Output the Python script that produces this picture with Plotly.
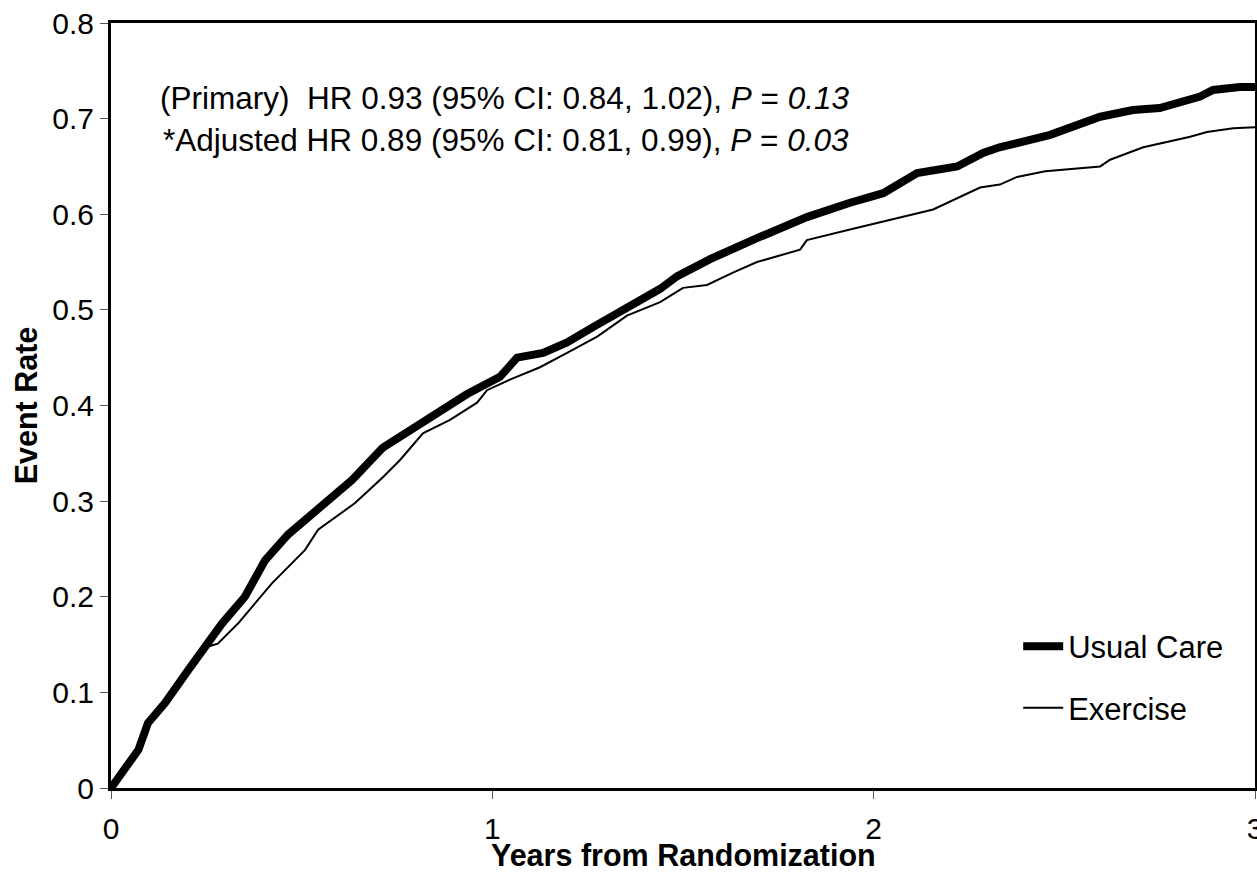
import plotly.graph_objects as go

# Usual Care (thick) event rate
usual_t = [0, 0.072, 0.097, 0.142, 0.202, 0.247, 0.291, 0.351, 0.404, 0.464, 0.553, 0.632,
           0.713, 0.758, 0.845, 0.934, 1.02, 1.065, 1.133, 1.196, 1.264, 1.353, 1.44, 1.484,
           1.571, 1.694, 1.825, 1.938, 2.025, 2.114, 2.219, 2.287, 2.33, 2.463, 2.594, 2.68,
           2.75, 2.856, 2.89, 2.96, 3.0]
usual_y = [0, 0.04, 0.068, 0.089, 0.123, 0.147, 0.172, 0.2, 0.238, 0.265, 0.294, 0.322,
           0.356, 0.367, 0.388, 0.412, 0.43, 0.45, 0.455, 0.466, 0.482, 0.503, 0.522, 0.535,
           0.553, 0.575, 0.597, 0.612, 0.622, 0.643, 0.65, 0.664, 0.670, 0.683, 0.702, 0.709,
           0.711, 0.723, 0.73, 0.733, 0.733]

# Exercise (thin) event rate
exercise_t = [0, 0.072, 0.097, 0.142, 0.202, 0.247, 0.28, 0.333, 0.422, 0.509, 0.543, 0.64,
              0.713, 0.758, 0.818, 0.889, 0.96, 0.986, 1.046, 1.125, 1.196, 1.275, 1.353, 1.44,
              1.5, 1.563, 1.631, 1.694, 1.807, 1.825, 1.938, 2.069, 2.156, 2.279, 2.331, 2.376,
              2.45, 2.594, 2.62, 2.707, 2.83, 2.874, 2.943, 3.0]
exercise_y = [0, 0.04, 0.068, 0.089, 0.123, 0.147, 0.151, 0.172, 0.214, 0.249, 0.27, 0.298,
              0.325, 0.343, 0.371, 0.385, 0.403, 0.416, 0.427, 0.44, 0.455, 0.472, 0.494, 0.508,
              0.523, 0.526, 0.539, 0.55, 0.563, 0.573, 0.584, 0.597, 0.605, 0.628, 0.631, 0.639,
              0.645, 0.65, 0.657, 0.67, 0.681, 0.686, 0.69, 0.691]

x_ticks = [0, 1, 2, 3]
y_ticks = [0, 0.1, 0.2, 0.3, 0.4, 0.5, 0.6, 0.7, 0.8]
y_ticklabels = ["0", "0.1", "0.2", "0.3", "0.4", "0.5", "0.6", "0.7", "0.8"]

line1 = "(Primary)  HR 0.93 (95% CI: 0.84, 1.02), <i>P</i> = <i>0.13</i>"
line2 = "*Adjusted HR 0.89 (95% CI: 0.81, 0.99), <i>P</i> = <i>0.03</i>"
x_title = "<b>Years from Randomization</b>"
y_title = "<b>Event Rate</b>"

FONT = "Liberation Sans, Arial, Helvetica, sans-serif"

fig = go.Figure()
fig.add_trace(go.Scatter(x=usual_t, y=usual_y, mode="lines", name="Usual Care",
                         line=dict(color="black", width=8), legendgroup="a"))
fig.add_trace(go.Scatter(x=exercise_t, y=exercise_y, mode="lines", name="Exercise",
                         line=dict(color="black", width=2), legendgroup="b"))

fig.add_annotation(x=1.94, y=0.722, xref="x", yref="y", text=line1, showarrow=False,
                   xanchor="right", yanchor="middle", font=dict(size=31.5, color="black", family=FONT))
fig.add_annotation(x=1.94, y=0.678, xref="x", yref="y", text=line2, showarrow=False,
                   xanchor="right", yanchor="middle", font=dict(size=31.5, color="black", family=FONT))
# x-axis title placed below the tick labels
fig.add_annotation(x=0.5, y=-0.0875, xref="paper", yref="paper", text=x_title, showarrow=False,
                   xanchor="center", yanchor="middle", font=dict(size=30.5, color="black", family=FONT))

fig.update_layout(
    width=1257, height=872,
    margin=dict(l=111, r=2, t=23, b=84, autoexpand=False),
    paper_bgcolor="white", plot_bgcolor="white",
    font=dict(family=FONT, color="black", size=30),
    showlegend=True,
    legend=dict(x=0.793, y=0.22, xanchor="left", yanchor="top",
                bgcolor="rgba(0,0,0,0)", borderwidth=0,
                font=dict(size=31, family=FONT, color="black"),
                tracegroupgap=18, itemwidth=40),
)
fig.update_xaxes(range=[0, 3], tickvals=x_ticks, ticktext=[str(v) for v in x_ticks],
                 showgrid=False, zeroline=False, automargin=False,
                 showline=True, linecolor="black", linewidth=3, mirror=True,
                 ticks="outside", ticklen=8, tickwidth=1, tickcolor="#555",
                 ticklabeloverflow="allow", ticklabelstandoff=4,
                 tickfont=dict(size=30, family=FONT))
fig.update_yaxes(range=[0, 0.8], tickvals=y_ticks, ticktext=y_ticklabels,
                 showgrid=False, zeroline=False, automargin=False,
                 showline=True, linecolor="black", linewidth=3, mirror=True,
                 ticks="outside", ticklen=8, tickwidth=1, tickcolor="#555",
                 ticklabeloverflow="allow",
                 tickfont=dict(size=30, family=FONT),
                 title=dict(text=y_title, font=dict(size=30.5, family=FONT), standoff=6))

fig.write_html("out.html", config={"displayModeBar": False},
               post_script="document.body.style.margin='0';document.body.style.overflow='hidden';")
